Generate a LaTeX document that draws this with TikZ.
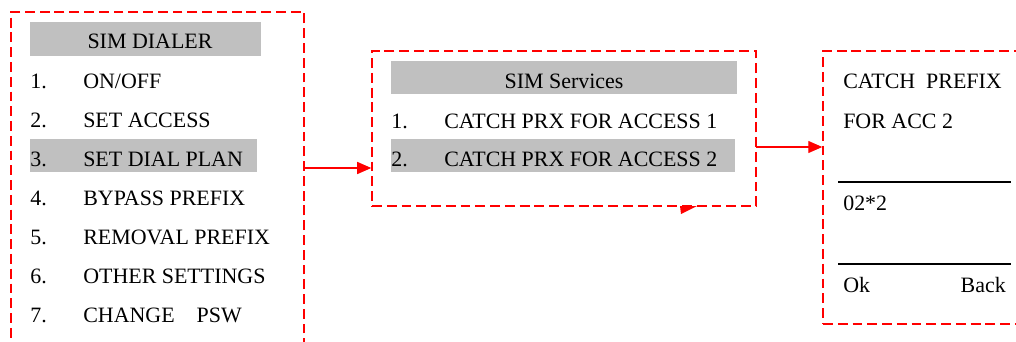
\documentclass[tikz,border=0pt]{standalone}
\usepackage{fontspec}
\setmainfont{Liberation Serif}
\usetikzlibrary{arrows.meta,fit}

\definecolor{bargray}{RGB}{192,192,192}
\definecolor{framered}{RGB}{255,0,0}

\tikzset{
  frame/.style={draw=framered,line width=1pt,dash pattern=on 7pt off 3.5pt,inner sep=0pt},
  bar/.style={fill=bargray},
  txt/.style={anchor=base west,inner sep=0pt,font=\fontsize{15.6}{18}\selectfont},
  ctxt/.style={anchor=base,inner sep=0pt,font=\fontsize{15.6}{18}\selectfont},
  arr/.style={draw=framered,line width=1pt,-{Triangle[length=10pt,width=8.5pt]}}
}

\begin{document}
\begin{tikzpicture}[x=0.025cm,y=-0.025cm]
  \useasboundingbox (0,0) rectangle (1016,341);
  \clip (0,0) rectangle (1016,341);

  % boxes
  \node[frame,fit={(11,12) (304,380)}] (dialer) {};
  \node[frame,fit={(372,51) (756,206)}] (services) {};
  \node[frame,fit={(823,51) (1060,324)}] (catch) {};

  % SIM DIALER menu
  \fill[bar] (30,22) rectangle (261,56);
  \fill[bar] (30,139) rectangle (257,172);
  \node[ctxt] (dtitle) at (150,49) {SIM DIALER};
  \foreach \n/\t/\y in {1/ON{/}OFF/88, 2/SET ACCESS/127, 3/SET DIAL PLAN/166,
      4/BYPASS PREFIX/205, 5/REMOVAL PREFIX/244, 6/OTHER SETTINGS/283,
      7/CHANGE\ \ \ \ PSW/322} {
    \node[txt] (dnum\n) at (30,\y) {\n.};
    \node[txt] (ditem\n) at (83,\y) {\t};
  }

  % SIM Services menu
  \fill[bar] (391,61) rectangle (737,94);
  \fill[bar] (391,139) rectangle (735,172);
  \node[ctxt] (stitle) at (564,89) {SIM Services};
  \node[txt] (snum1) at (391,128) {1.};
  \node[txt] (sitem1) at (444,128) {CATCH PRX FOR ACCESS 1};
  \node[txt] (snum2) at (391,166) {2.};
  \node[txt] (sitem2) at (444,166) {CATCH PRX FOR ACCESS 2};
  \fill[framered] (680,206) -- (697,206) -- (681,214) -- cycle;

  % catch prefix screen
  \node[txt] (ctitle) at (843,88) {CATCH\ \ PREFIX};
  \node[txt] (ctitleb) at (843,128) {FOR ACC 2};
  \draw[line width=1.1pt] (838,182) -- (1011,182);
  \node[txt] (cvalue) at (843,210) {02*2};
  \draw[line width=1.1pt] (838,264) -- (1011,264);
  \node[txt] (cok) at (843,292) {Ok};
  \node[txt,anchor=base east] (cback) at (1006,292) {Back};

  % links
  \coordinate (l1) at (304,168);
  \coordinate (l2) at (756,147);
  \draw[arr] (l1) -- (services.west |- l1);
  \draw[arr] (l2) -- (catch.west |- l2);
\end{tikzpicture}
\end{document}
